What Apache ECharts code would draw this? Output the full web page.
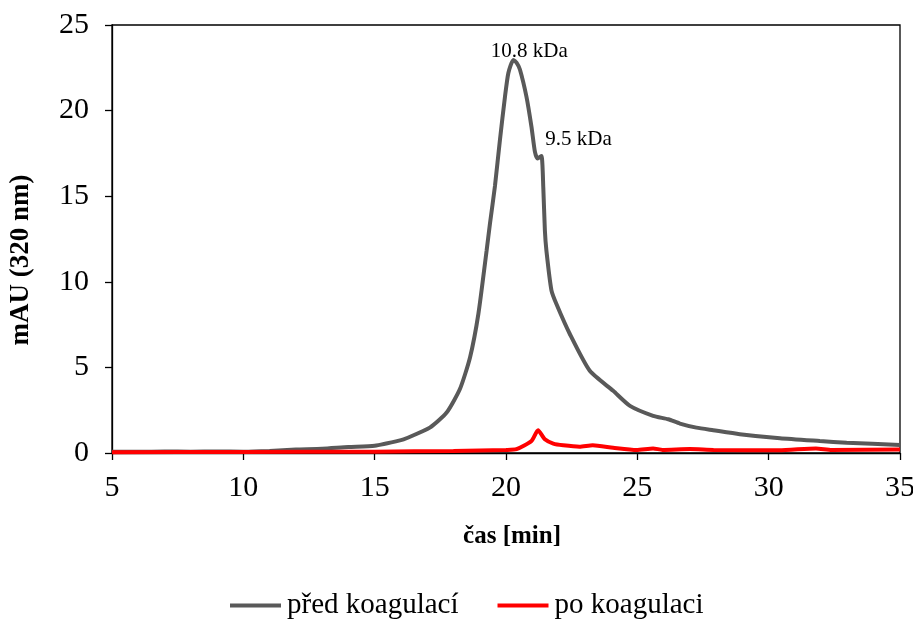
<!DOCTYPE html>
<html>
<head>
<meta charset="utf-8">
<script src="https://cdn.jsdelivr.net/npm/echarts@6/dist/echarts.min.js"></script>
<style>
	html, body { margin: 0; padding: 0; background: #fff; }
	#chart { width: 913px; height: 619px; }
</style>
</head>
<body>
<div id="chart"></div>
<script>
// retention time [min] and absorbance [mAU]
var predTime = [5, 6, 7, 8, 9, 10, 11, 12, 13, 14, 15, 16, 16.21, 17.1, 17.74, 18.25, 18.63, 18.95, 19.26, 19.39,
	19.58, 19.77, 19.96, 20.09, 20.28, 20.4, 20.53, 20.78, 20.97, 21.1, 21.2, 21.35, 21.42, 21.48, 21.54, 21.73,
	21.92, 22.43, 23.19, 24.08, 24.72, 25.6, 26.18, 26.62, 27.25, 27.89, 28.9, 30.43, 31.95, 32.97, 35];
var predValues = [0.08, 0.07, 0.09, 0.08, 0.09, 0.08, 0.12, 0.2, 0.25, 0.35, 0.42, 0.75, 0.86, 1.48, 2.36, 3.75, 5.58, 8.14, 11.8, 13.4,
	15.6, 18.3, 20.8, 22.2, 22.96, 22.8, 22.4, 20.8, 19.05, 17.6, 17.2, 17.35, 15.5, 13.0, 11.8, 9.5,
	8.7, 6.95, 4.8, 3.63, 2.75, 2.17, 1.97, 1.72, 1.48, 1.33, 1.1, 0.86, 0.70, 0.6, 0.47];

var poTime = [5, 10, 15, 18, 20, 20.4, 20.97, 21.22, 21.48, 21.8, 22.18, 22.8, 23.3, 24.08, 24.97, 25.6, 25.96,
	27.0, 27.9, 30.4, 31.8, 32.4, 35];
var poValues = [0.05, 0.06, 0.08, 0.12, 0.18, 0.22, 0.70, 1.33, 0.8, 0.55, 0.45, 0.37, 0.45, 0.31, 0.18, 0.27, 0.18,
	0.23, 0.18, 0.16, 0.27, 0.18, 0.2];

var seriesNames = ['před koagulací', 'po koagulaci'];
var peakLabels = [
	{ text: '10.8 kDa', time: 20.28, value: 22.96 },
	{ text: '9.5 kDa', time: 21.35, value: 17.35 }
];

function pairs(xs, ys) {
	var out = [];
	for (var i = 0; i < xs.length; i++) {
		out.push([xs[i], ys[i]]);
	}
	return out;
}

var font = '"Liberation Serif", "Times New Roman", serif';
var chart = echarts.init(document.getElementById('chart'));

chart.setOption({
	animation: false,
	textStyle: { fontFamily: font },
	grid: {
		left: 112,
		right: 13,
		top: 25,
		bottom: 166,
		outerBoundsMode: 'none',
		show: true,
		borderColor: '#000',
		borderWidth: 1.3
	},
	legend: {
		top: 591,
		left: 230,
		padding: 0,
		itemWidth: 51,
		itemHeight: 4,
		itemGap: 39,
		icon: 'rect',
		textStyle: { fontFamily: font, fontSize: 29, color: '#000', padding: [0, 0, 0, 1] },
		data: seriesNames
	},
	xAxis: {
		type: 'value',
		min: 5,
		max: 35,
		interval: 5,
		name: 'čas [min]',
		nameLocation: 'middle',
		nameGap: 71,
		nameTextStyle: { fontFamily: font, fontSize: 25, fontWeight: 'bold', color: '#000', padding: [0, 0, 0, 12] },
		axisLine: { lineStyle: { color: '#000', width: 1.3 } },
		axisTick: { show: true, length: 7, lineStyle: { color: '#000', width: 1.3 } },
		axisLabel: { fontFamily: font, fontSize: 30, color: '#000', margin: 20 },
		splitLine: { show: false }
	},
	yAxis: {
		type: 'value',
		min: 0,
		max: 25,
		interval: 5,
		name: 'mAU (320 nm)',
		nameLocation: 'middle',
		nameGap: 77,
		nameTextStyle: { fontFamily: font, fontSize: 27, fontWeight: 'bold', color: '#000', padding: [0, 42, 0, 0] },
		axisLine: { show: true, lineStyle: { color: '#000', width: 1.3 } },
		axisTick: { show: true, length: 7, lineStyle: { color: '#000', width: 1.3 } },
		axisLabel: { fontFamily: font, fontSize: 30, color: '#000', margin: 23 },
		splitLine: { show: false }
	},
	series: [{
			name: seriesNames[0],
			type: 'line',
			data: pairs(predTime, predValues),
			showSymbol: false,
			smooth: 0.2,
			z: 2,
			lineStyle: { color: '#595959', width: 4 },
			itemStyle: { color: '#595959' },
			markPoint: {
				symbol: 'circle',
				symbolSize: 0,
				label: {
					show: true,
					formatter: '{b}',
					color: '#000',
					fontFamily: font,
					fontSize: 21
				},
				data: [{
						name: peakLabels[0].text,
						coord: [peakLabels[0].time, peakLabels[0].value],
						label: { offset: [16, -8] }
					}, {
						name: peakLabels[1].text,
						coord: [peakLabels[1].time, peakLabels[1].value],
						label: { offset: [37, -16] }
					}
				]
			}
		}, {
			name: seriesNames[1],
			type: 'line',
			data: pairs(poTime, poValues),
			showSymbol: false,
			smooth: 0.2,
			z: 3,
			lineStyle: { color: '#ff0000', width: 4 },
			itemStyle: { color: '#ff0000' }
		}
	]
});
</script>
</body>
</html>
